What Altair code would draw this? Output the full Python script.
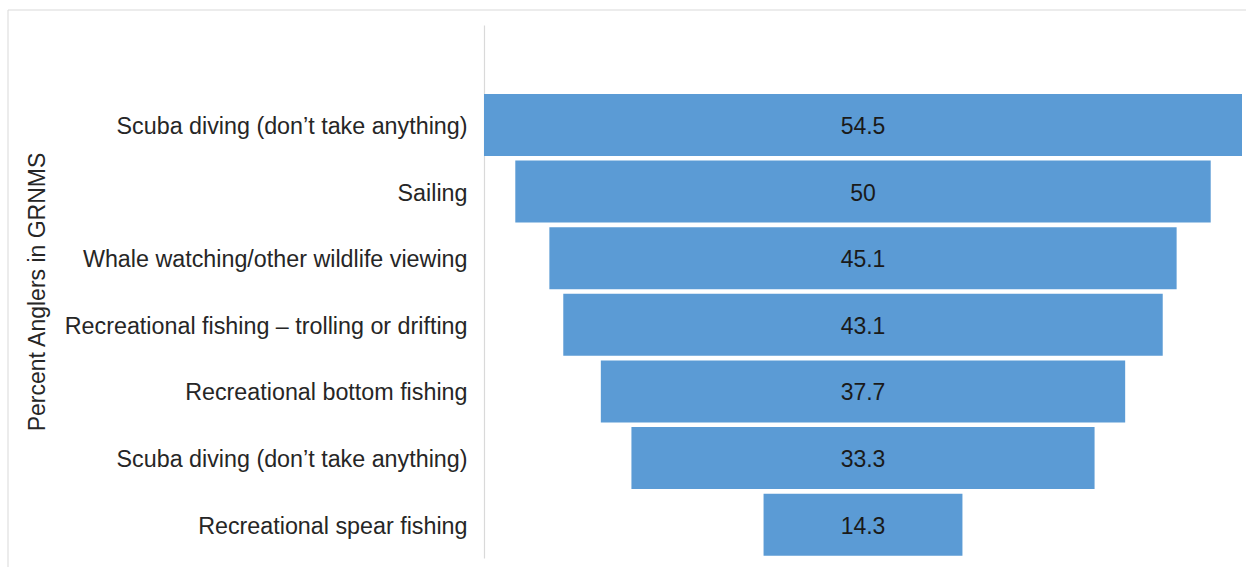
import json
import altair as alt
import pandas as pd

categories = [
    "Scuba diving (don\u2019t take anything)",
    "Sailing",
    "Whale watching/other wildlife viewing",
    "Recreational fishing \u2013 trolling or drifting",
    "Recreational bottom fishing",
    "Scuba diving (don\u2019t take anything)",
    "Recreational spear fishing",
]
values = [54.5, 50, 45.1, 43.1, 37.7, 33.3, 14.3]
value_labels = ["54.5", "50", "45.1", "43.1", "37.7", "33.3", "14.3"]

max_v = max(values)
keys = [str(i + 1) for i in range(len(categories))]
df = pd.DataFrame({"key": keys, "cat": categories, "value": values, "lab": value_labels})

label_lookup = json.dumps([""] + categories)
domain = ["0"] + keys

y_enc = alt.Y(
    "key:N",
    sort=domain,
    scale=alt.Scale(domain=domain, paddingInner=0.07, paddingOuter=0.035),
    axis=alt.Axis(
        title="Percent Anglers in GRNMS",
        labelExpr=f"{label_lookup}[toNumber(datum.value)]",
        labelFont="Liberation Sans",
        labelFontSize=23.3,
        labelColor="#262626",
        labelPadding=17,
        labelBaseline="middle",
        labelOffset=2,
        ticks=False,
        domainColor="#d9d9d9",
        domainWidth=1.2,
        titleFont="Liberation Sans",
        titleFontSize=23,
        titleFontWeight="normal",
        titleColor="#262626",
        titleX=-447,
        titleY=266.5,
        titleAngle=-90,
        titleAlign="center",
        titleBaseline="middle",
        labelLimit=0,
    ),
)

base = alt.Chart(df).transform_calculate(
    x0=f"({max_v} - datum.value) / 2",
    x1=f"({max_v} + datum.value) / 2",
    xm=f"{max_v} / 2",
)

bars = base.mark_bar(color="#5b9bd5").encode(
    x=alt.X("x0:Q", scale=alt.Scale(domain=[0, max_v], nice=False, zero=False), axis=None),
    x2="x1:Q",
    y=y_enc,
)

texts = base.mark_text(font="Liberation Sans", fontSize=23, color="#1a1a1a", dy=2).encode(
    x=alt.X("xm:Q", scale=alt.Scale(domain=[0, max_v], nice=False, zero=False), axis=None),
    y=alt.Y("key:N", sort=domain, scale=alt.Scale(domain=domain, paddingInner=0.07, paddingOuter=0.035)),
    text="lab:N",
)

frame = alt.Chart(pd.DataFrame({"a": [0]})).mark_rect(
    fill=None, stroke="#d9d9d9", strokeWidth=1
).encode(
    x=alt.value(-476), x2=alt.value(790), y=alt.value(-15), y2=alt.value(560)
)

chart = alt.layer(frame, bars, texts).properties(
    width=758,
    height=533,
    autosize=alt.AutoSizeParams(type="none"),
    padding={"left": 484, "top": 25, "right": 4, "bottom": 9},
    background="white",
).configure_view(stroke=None)

chart.save("out.html", embed_options={"renderer": "svg", "actions": False})
